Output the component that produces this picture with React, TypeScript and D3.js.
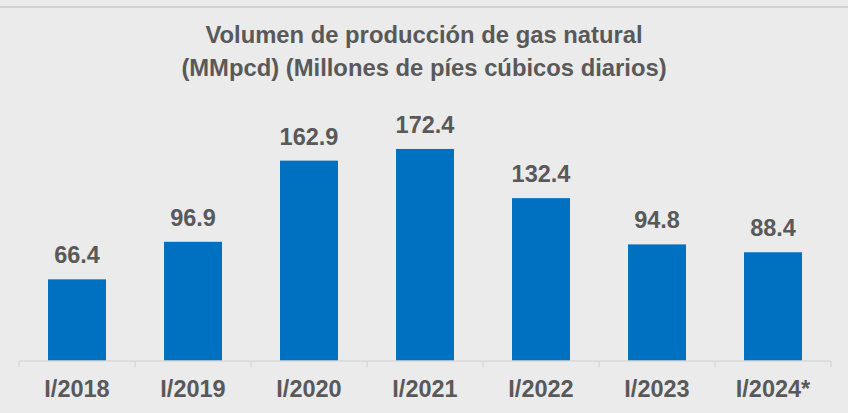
import React, { useEffect, useRef } from 'react';
import * as d3 from 'd3';

const categories = ['I/2018', 'I/2019', 'I/2020', 'I/2021', 'I/2022', 'I/2023', 'I/2024*'];
const values = [66.4, 96.9, 162.9, 172.4, 132.4, 94.8, 88.4];
const titleLines = [
  'Volumen de producción de gas natural',
  '(MMpcd) (Millones de píes cúbicos diarios)',
];

const App = () => {
  const ref = useRef<SVGSVGElement | null>(null);

  useEffect(() => {
    document.body.style.margin = '0';
    drawChart();
  }, []);

  const drawChart = () => {
    const width = 848,
      height = 413,
      axisY = 361,
      plotTop = 115,
      left = 19,
      right = 831,
      textColor = '#595959',
      font = '"Liberation Sans", Arial, sans-serif';

    const svg = d3.select(ref.current);
    svg.selectAll('*').remove();

    svg.append('rect')
      .attr('width', width)
      .attr('height', height)
      .attr('fill', '#ebebeb');

    // thin rule at the top
    svg.append('rect')
      .attr('x', 0)
      .attr('y', 6)
      .attr('width', width)
      .attr('height', 2)
      .attr('fill', '#d0d0d0');

    // title
    svg.append('text')
      .attr('text-anchor', 'middle')
      .attr('font-family', font)
      .attr('font-weight', 'bold')
      .attr('font-size', 23.8)
      .attr('fill', textColor)
      .selectAll('tspan')
      .data(titleLines)
      .enter()
      .append('tspan')
      .attr('x', 424)
      .attr('y', (d, i) => 43 + i * 33)
      .text(d => d);

    const xScale = d3.scaleBand()
      .domain(categories)
      .range([left, right])
      .paddingInner(0.5)
      .paddingOuter(0.25);

    const yScale = d3.scaleLinear().domain([0, 200]).range([axisY, plotTop]);

    const data = categories.map((c, i) => ({ cat: c, value: values[i] }));

    svg.append('g')
      .selectAll('rect')
      .data(data)
      .enter()
      .append('rect')
      .attr('x', d => xScale(d.cat) as number)
      .attr('y', d => yScale(d.value))
      .attr('width', xScale.bandwidth())
      .attr('height', d => axisY - yScale(d.value))
      .attr('fill', '#0070c0');

    // value labels
    svg.append('g')
      .selectAll('text')
      .data(data)
      .enter()
      .append('text')
      .attr('x', d => (xScale(d.cat) as number) + xScale.bandwidth() / 2)
      .attr('y', d => yScale(d.value) - 16)
      .attr('text-anchor', 'middle')
      .attr('font-family', font)
      .attr('font-weight', 'bold')
      .attr('font-size', 23.5)
      .attr('fill', textColor)
      .text(d => d.value.toFixed(1));

    // x axis with ticks between categories
    const step = xScale.step();
    const axis = svg.append('g');
    axis.append('line')
      .attr('x1', left)
      .attr('x2', right)
      .attr('y1', axisY)
      .attr('y2', axisY)
      .attr('stroke', '#d9d9d9')
      .attr('stroke-width', 1.5);
    axis.selectAll('line.tick')
      .data(d3.range(categories.length + 1))
      .enter()
      .append('line')
      .attr('class', 'tick')
      .attr('x1', i => left + i * step)
      .attr('x2', i => left + i * step)
      .attr('y1', axisY)
      .attr('y2', axisY + 6)
      .attr('stroke', '#d9d9d9')
      .attr('stroke-width', 1.5);
    axis.selectAll('text')
      .data(categories)
      .enter()
      .append('text')
      .attr('x', d => (xScale(d) as number) + xScale.bandwidth() / 2)
      .attr('y', 397)
      .attr('text-anchor', 'middle')
      .attr('font-family', font)
      .attr('font-weight', 'bold')
      .attr('font-size', 23.5)
      .attr('fill', textColor)
      .text(d => d);
  };

  return <svg ref={ref} width={848} height={413} style={{ display: 'block' }} />;
};

export default App;
